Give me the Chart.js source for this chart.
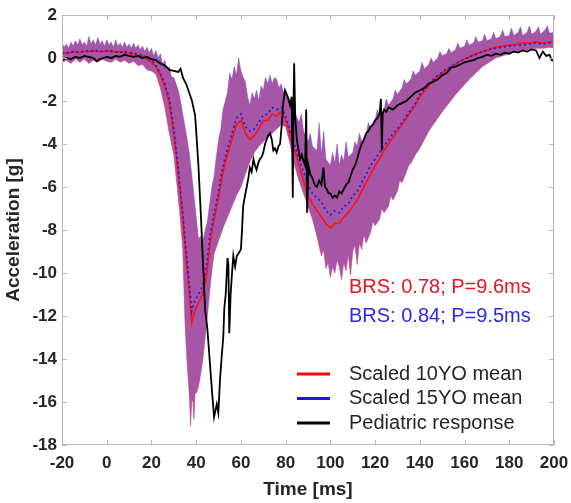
<!DOCTYPE html>
<html>
<head>
<meta charset="utf-8">
<script src="https://cdn.jsdelivr.net/npm/chart.js@4"></script>
<style>
  html, body { margin: 0; padding: 0; background: #fff; }
  #wrap { width: 571px; height: 503px; }
</style>
</head>
<body>
<div id="wrap"><canvas id="chart" width="571" height="503"></canvas></div>
<script>
// time grid (ms) for the two scaled means
const timeMs = [-20,-18,-16,-14,-12,-10,-8,-6,-4,-2,0,2,4,6,8,10,12,14,16,18,20,22,24,26,28,30,31,32,33,34,35,36,37,38,39,40,41,42,43,44,45,46,47,48,50,52,54,56,58,60,62,64,66,68,70,72,74,76,78,80,82,84,86,88,90,92,94,96,98,100,102,104,106,108,110,112,114,116,118,120,122,124,126,128,130,132,134,136,138,140,142,144,146,148,150,153,156,159,162,165,168,171,174,177,180,183,186,189,192,195,198,200];
const mean10YO = [0.2,0.25,0.25,0.3,0.25,0.3,0.3,0.35,0.3,0.3,0.3,0.35,0.25,0.3,0.25,0.2,0.2,0.1,0.1,-0.05,-0.2,-0.4,-0.8,-1.3,-2.1,-3.5,-4.4,-5.4,-6.4,-7.5,-8.7,-9.9,-11.0,-12.3,-11.9,-11.6,-11.4,-11.2,-10.9,-10.5,-9.8,-8.8,-8.1,-7.5,-6.5,-5.3,-4.5,-3.8,-3.1,-2.9,-3.5,-3.8,-3.6,-3.3,-2.9,-2.9,-2.6,-2.7,-2.5,-2.9,-3.6,-4.3,-5.0,-5.7,-6.4,-6.8,-7.1,-7.4,-7.7,-7.9,-7.7,-7.7,-7.4,-7.2,-6.9,-6.6,-6.2,-5.8,-5.4,-5.0,-4.7,-4.3,-4.0,-3.7,-3.4,-3.1,-2.8,-2.5,-2.2,-1.8,-1.55,-1.3,-1.05,-0.85,-0.7,-0.5,-0.3,-0.1,0.05,0.2,0.3,0.4,0.5,0.55,0.6,0.65,0.7,0.7,0.75,0.7,0.75,0.75];
const mean15YO = [0.25,0.2,0.3,0.25,0.3,0.3,0.35,0.3,0.35,0.3,0.35,0.3,0.3,0.25,0.3,0.25,0.25,0.15,0.15,0.0,-0.1,-0.35,-0.7,-1.2,-1.9,-3.3,-4.2,-5.2,-6.2,-7.2,-8.4,-9.5,-10.6,-11.8,-11.4,-11.2,-11.0,-10.8,-10.5,-10.0,-9.4,-8.3,-7.8,-7.2,-6.2,-5.0,-4.2,-3.5,-2.8,-2.6,-3.2,-3.4,-3.3,-3.0,-2.65,-2.6,-2.3,-2.4,-2.3,-2.7,-3.4,-4.0,-4.7,-5.3,-5.9,-6.3,-6.5,-6.7,-7.1,-7.3,-7.1,-7.2,-6.9,-6.8,-6.4,-6.2,-5.8,-5.4,-5.0,-4.7,-4.4,-4.1,-3.8,-3.5,-3.3,-3.0,-2.7,-2.4,-2.1,-1.7,-1.45,-1.2,-1.0,-0.8,-0.65,-0.45,-0.25,-0.1,0.05,0.15,0.3,0.4,0.45,0.5,0.55,0.6,0.6,0.65,0.7,0.65,0.7,0.7];

// corridor upper bound
const upperT = [-20,-19,-18,-17,-16,-15,-14,-13,-12,-11,-10,-9,-8,-7,-6,-5,-4,-3,-2,-1,0,1,2,3,4,5,6,7,8,9,10,11,12,13,14,15,16,17,18,19,20,21,22,23,24,25,26,27,28,29,30,31,32,33,34,35,36,37,38,39,40,41,42,43,44,45,46,47,48,49,50,51,52,53,54,55,56,57,58,59,60,61,62,63,64,65,66,67,68,69,70,71,72,73,74,75,76,77,78,79,80,82,84,86,87,88,90,91,92,94,95,96,97,98,100,101,102,103,104,105,106,107,108,110,111,112,113,114,116,117,118,120,121,122,124,125,126,128,129,130,132,133,134,136,137,138,140,141,142,144,145,146,148,149,150,152,153,154,156,157,158,160,161,162,164,165,166,168,169,170,172,173,174,176,177,178,180,181,182,184,185,186,188,189,190,192,193,194,196,197,198,200];
const bandUpper = [0.7,0.5,0.65,0.45,0.75,0.55,0.8,0.6,0.9,0.6,0.75,0.55,1.0,0.65,0.85,0.6,0.95,0.65,0.8,0.55,0.85,0.6,0.75,0.5,0.85,0.55,0.7,0.5,0.75,0.5,0.65,0.45,0.7,0.45,0.6,0.4,0.55,0.3,0.5,0.25,0.45,0.1,0.35,0.0,0.2,-0.3,-0.1,-0.6,-0.4,-0.9,-0.9,-1.2,-1.5,-2.0,-2.6,-3.2,-3.8,-4.5,-5.4,-6.4,-7.4,-8.4,-8.3,-8.5,-8.0,-7.6,-6.8,-6.0,-5.5,-4.6,-3.8,-3.3,-2.4,-2.0,-1.6,-0.7,-1.0,-0.4,-0.8,0.0,-0.6,-0.9,-1.1,-1.8,-2.2,-1.6,-1.9,-1.5,-2.0,-1.3,-1.5,-0.9,-1.2,-0.8,-1.2,-0.9,-1.0,-1.4,-1.2,-1.6,-1.5,-2.0,-2.5,-3.0,-2.6,-3.4,-3.9,-3.5,-4.1,-4.3,-3.0,-4.5,-3.4,-4.7,-5.0,-4.4,-4.9,-4.0,-5.0,-4.5,-4.8,-3.9,-4.6,-4.4,-3.9,-4.1,-3.5,-3.9,-3.5,-3.0,-3.3,-2.9,-2.4,-2.7,-2.4,-1.9,-2.2,-1.9,-1.5,-1.7,-1.4,-1.0,-1.2,-1.0,-0.6,-0.8,-0.6,-0.2,-0.5,-0.3,0.0,-0.2,0.0,0.3,0.1,0.2,0.45,0.25,0.4,0.7,0.45,0.55,0.85,0.6,0.7,1.0,0.75,0.8,1.1,0.8,0.9,1.2,0.9,1.0,1.3,1.0,1.05,1.4,1.05,1.2,1.45,1.05,1.2,1.5,1.1,1.25,1.45,1.1,1.3,1.5,1.15,1.2];

// corridor lower bound
const lowerT = [-20,-18,-16,-14,-12,-10,-8,-6,-4,-2,0,2,4,6,8,10,12,14,16,18,20,22,24,26,28,30,31,32,33,34,35,36,37,37.5,38,38.5,39,39.5,40,41,42,43,44,45,46,47,48,50,52,54,56,58,60,62,64,66,68,70,72,74,76,78,80,82,84,86,88,90,92,94,96,97,98,99,100,101,102,103,104,105,106,107,108,109,110,111,112,113,114,115,116,118,119,120,122,123,124,126,127,128,130,131,132,134,135,136,138,140,142,144,146,148,150,153,156,159,162,165,168,171,174,177,180,183,186,189,192,195,198,200];
const bandLower = [-0.2,-0.1,-0.25,-0.05,-0.2,-0.05,-0.25,-0.1,-0.2,-0.05,-0.15,-0.2,-0.05,-0.2,-0.1,-0.25,-0.15,-0.35,-0.3,-0.55,-0.6,-0.75,-1.4,-2.3,-3.5,-4.5,-5.5,-6.5,-7.6,-8.9,-12.3,-14.3,-15.8,-17.1,-16.0,-15.9,-16.8,-15.6,-15.6,-15.3,-14.7,-14.0,-13.0,-12.0,-10.9,-9.9,-9.1,-8.5,-7.9,-7.4,-6.9,-6.4,-6.0,-5.4,-4.8,-4.4,-4.1,-3.9,-3.7,-3.5,-3.3,-3.1,-3.2,-4.0,-5.0,-5.7,-6.3,-6.9,-7.5,-8.3,-9.2,-8.9,-9.8,-9.5,-10.2,-9.7,-10.0,-9.4,-9.7,-10.3,-9.5,-9.9,-9.1,-10.1,-9.0,-8.7,-9.6,-8.6,-8.9,-8.2,-8.6,-8.1,-7.6,-7.8,-7.5,-7.0,-7.2,-6.9,-6.4,-6.6,-6.2,-5.7,-5.8,-5.3,-5.0,-4.9,-4.5,-4.2,-3.8,-3.4,-3.1,-2.8,-2.5,-2.1,-1.7,-1.35,-1.0,-0.7,-0.4,-0.2,0.0,0.1,0.2,0.3,0.35,0.4,0.45,0.45,0.5,0.45];

// pediatric response
const pedT = [-20,-18,-16,-14,-12,-10,-8,-6,-4.5,-3,0,2,4,6,8,10,12,14,16,18,20,22,24,26,28,30,32,33,34.2,35.5,36.5,38,39.5,40.2,41,42,43,44,45,46,47,48,48.6,49.2,49.9,50.7,51.4,52.1,52.6,53.2,54,54.4,54.8,55.4,55.9,56.6,57.4,58.2,58.9,60,60.5,61,62,62.6,63.3,64,64.8,65.6,66.3,67,67.7,68.5,69.3,70,70.8,71.5,72.2,73,73.8,74.5,75.2,76,76.8,77.5,78.2,79,79.7,80.5,81.2,82,82.7,83.2,83.5,83.8,84.3,85,85.8,86.5,87.2,88,88.7,89.2,89.6,90.2,91,92,93,94,95,96,96.9,97.6,98.4,99.2,100,101,102,103,104,105,106,107,108,109,110,111,112,113,114,115,116,117,118,119,120,121,122,122.6,123,123.4,124,125,126,128,130,132,134,136,138,140,142,144,146,148,150,152,154,156,158,160,162,164,166,168,170,172,174,176,178,180,182,184,186,188,190,192,193.5,195,196.5,198,199,200];
const pedG = [-0.1,0.0,-0.05,0.05,0.0,0.1,0.05,0.0,-0.15,-0.05,0.05,0.0,0.1,0.05,0.15,0.1,0.05,0.1,0.0,0.05,-0.05,-0.1,-0.25,-0.35,-0.55,-0.6,-0.65,-0.5,-0.95,-1.2,-1.5,-1.95,-2.65,-3.7,-5.0,-7.1,-9.4,-11.7,-12.6,-14.0,-15.4,-16.7,-16.4,-16.1,-16.5,-14.9,-13.9,-13.0,-11.6,-11.0,-9.3,-9.6,-12.8,-11.0,-10.2,-9.2,-9.7,-9.2,-9.1,-8.9,-8.0,-6.9,-6.3,-6.0,-5.6,-5.1,-5.3,-4.7,-5.0,-5.2,-4.9,-4.7,-4.6,-4.4,-4.0,-3.8,-3.6,-3.5,-3.8,-4.3,-4.2,-4.4,-4.1,-4.0,-3.2,-2.0,-1.5,-1.7,-1.9,-2.2,-1.8,-6.5,-2.5,-0.25,-2.8,-3.8,-4.3,-4.7,-4.5,-4.8,-5.0,-2.4,-7.2,-5.0,-5.4,-5.6,-5.9,-6.0,-5.7,-5.9,-5.1,-6.0,-6.1,-6.3,-6.3,-6.5,-6.4,-6.5,-6.2,-6.3,-6.1,-5.9,-5.8,-5.5,-5.2,-5.0,-4.7,-4.3,-4.0,-3.8,-3.5,-3.4,-3.2,-3.1,-2.9,-2.8,-2.6,-1.9,-4.3,-2.6,-2.4,-2.5,-2.3,-2.4,-2.2,-2.1,-2.0,-1.8,-1.6,-1.5,-1.4,-1.2,-1.1,-1.0,-0.8,-0.7,-0.45,-0.4,-0.3,-0.2,-0.15,-0.1,0.0,0.05,0.15,0.1,0.2,0.15,0.25,0.2,0.3,0.25,0.35,0.3,0.4,0.35,0.0,0.3,0.1,0.15,-0.1,-0.15];

const legendItems = [
    { label: 'Scaled 10YO mean', color: '#ff0000' },
    { label: 'Scaled 15YO mean', color: '#1a1ae6' },
    { label: 'Pediatric response', color: '#000000' }
];
const brsNotes = [
    { text: 'BRS: 0.78; P=9.6ms', color: '#e8141e' },
    { text: 'BRS: 0.84; P=9.5ms', color: '#2a2ae0' }
];

const xTicks = [-20, 0, 20, 40, 60, 80, 100, 120, 140, 160, 180, 200];
const yTicks = [-18, -16, -14, -12, -10, -8, -6, -4, -2, 0, 2];

function pts(xs, ys) {
    return xs.map((x, i) => ({ x: x, y: ys[i] }));
}

const axisColor = '#b9b9b9';
const textColor = '#262626';
const fontFamily = '"Liberation Sans", Arial, sans-serif';

// box + inward tick marks, legend and notes
const boxPlugin = {
    id: 'boxPlugin',
    afterDatasetsDraw(chart) {
        const ctx = chart.ctx;
        const a = chart.chartArea;
        const sx = chart.scales.x, sy = chart.scales.y;
        ctx.save();
        ctx.strokeStyle = axisColor;
        ctx.lineWidth = 1;
        ctx.strokeRect(a.left + 0.5, a.top + 0.5, a.right - a.left - 1, a.bottom - a.top - 1);
        ctx.beginPath();
        xTicks.forEach((v) => {
            const px = Math.round(sx.getPixelForValue(v)) + 0.5;
            ctx.moveTo(px, a.bottom); ctx.lineTo(px, a.bottom - 5);
            ctx.moveTo(px, a.top); ctx.lineTo(px, a.top + 5);
        });
        yTicks.forEach((v) => {
            const py = Math.round(sy.getPixelForValue(v)) + 0.5;
            ctx.moveTo(a.left, py); ctx.lineTo(a.left + 5, py);
            ctx.moveTo(a.right, py); ctx.lineTo(a.right - 5, py);
        });
        ctx.stroke();

        ctx.font = '20px ' + fontFamily;
        ctx.textBaseline = 'middle';
        ctx.textAlign = 'left';
        brsNotes.forEach((n, i) => {
            ctx.fillStyle = n.color;
            ctx.fillText(n.text, 349, 287 + i * 29);
        });
        legendItems.forEach((it, i) => {
            const y = 374 + i * 24.5;
            ctx.strokeStyle = it.color;
            ctx.lineWidth = 3;
            ctx.beginPath();
            ctx.moveTo(297, y); ctx.lineTo(330, y);
            ctx.stroke();
            ctx.fillStyle = textColor;
            ctx.fillText(it.label, 349, y);
        });
        ctx.restore();
    }
};

new Chart(document.getElementById('chart'), {
    type: 'line',
    data: {
        datasets: [{
            label: 'Pediatric response',
            data: pts(pedT, pedG),
            borderColor: '#000000',
            borderWidth: 1.8,
            pointRadius: 0,
            fill: false
        }, {
            label: 'Scaled 15YO mean',
            data: pts(timeMs, mean15YO),
            borderColor: '#1a1ae6',
            borderWidth: 1.6,
            borderDash: [2, 3],
            pointRadius: 0,
            fill: false
        }, {
            label: 'Scaled 10YO mean',
            data: pts(timeMs, mean10YO),
            borderColor: '#ff1010',
            borderWidth: 1.6,
            pointRadius: 0,
            fill: false
        }, {
            label: 'upper',
            data: pts(upperT, bandUpper),
            borderColor: 'rgba(120,70,200,0.45)',
            borderWidth: 1,
            pointRadius: 0,
            backgroundColor: 'rgba(160,72,158,0.92)',
            fill: 4
        }, {
            label: 'lower',
            data: pts(lowerT, bandLower),
            borderColor: 'rgba(235,60,90,0.6)',
            borderWidth: 1,
            pointRadius: 0,
            fill: false
        }]
    },
    options: {
        responsive: false,
        animation: false,
        layout: { padding: { top: 15, right: 17, left: 0, bottom: 0 } },
        plugins: {
            legend: { display: false },
            tooltip: { enabled: false }
        },
        scales: {
            x: {
                type: 'linear',
                min: -20,
                max: 200,
                afterBuildTicks: (s) => { s.ticks = xTicks.map((v) => ({ value: v })); },
                afterFit: (s) => { s.height = 58; s.paddingLeft = 0; s.paddingRight = 0; },
                grid: { display: false, drawTicks: false },
                border: { display: false },
                ticks: {
                    padding: 8,
                    color: textColor,
                    font: { family: fontFamily, size: 17, weight: 'bold' },
                    maxRotation: 0
                },
                title: {
                    display: true,
                    text: 'Time [ms]',
                    color: textColor,
                    padding: { top: 0, bottom: 2 },
                    font: { family: fontFamily, size: 19, weight: 'bold' }
                }
            },
            y: {
                min: -18,
                max: 2,
                afterBuildTicks: (s) => { s.ticks = yTicks.map((v) => ({ value: v })); },
                afterFit: (s) => { s.width = 62; s.paddingTop = 0; s.paddingBottom = 0; },
                grid: { display: false, drawTicks: false },
                border: { display: false },
                ticks: {
                    padding: 5,
                    color: textColor,
                    font: { family: fontFamily, size: 17, weight: 'bold' }
                },
                title: {
                    display: true,
                    text: 'Acceleration [g]',
                    color: textColor,
                    padding: { top: 2, bottom: 0 },
                    font: { family: fontFamily, size: 19, weight: 'bold' }
                }
            }
        }
    },
    plugins: [boxPlugin]
});
</script>
</body>
</html>
